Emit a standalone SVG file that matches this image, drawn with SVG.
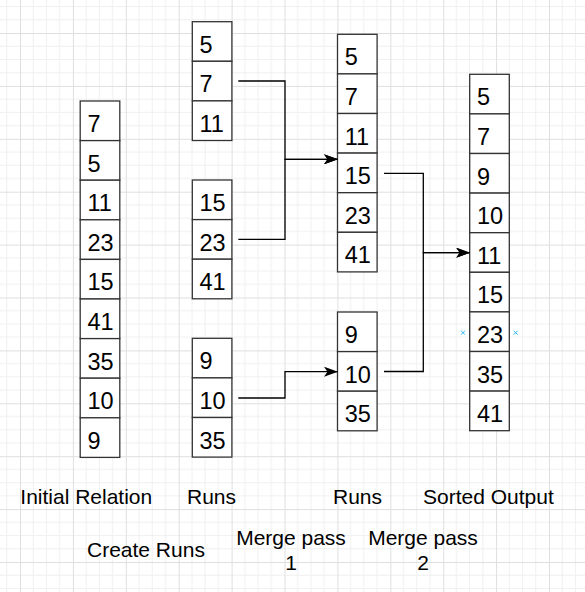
<svg xmlns="http://www.w3.org/2000/svg" width="585" height="592" viewBox="0 0 585 592">
<defs>
<pattern id="grid" x="20" y="33" width="52.9" height="52.9" patternUnits="userSpaceOnUse">
<path d="M13.225,0V52.9M26.45,0V52.9M39.675,0V52.9M0,13.225H52.9M0,26.45H52.9M0,39.675H52.9" fill="none" stroke="#f0f0f0" stroke-width="1"/>
<path d="M0.5,0V52.9M0,0.5H52.9" fill="none" stroke="#dfdfdf" stroke-width="1"/>
</pattern>
<marker id="arr" viewBox="0 0 14 10" refX="13.5" refY="5" markerWidth="14" markerHeight="10" markerUnits="userSpaceOnUse" orient="auto">
<path d="M0,0 L14,5 L0,10 L3.5,5 Z" fill="#000"/>
</marker>
<style>
.c rect{fill:#fff;stroke:#333;stroke-width:1.3}
.c text{font-family:"Liberation Sans",Arial,sans-serif;font-size:23.5px;fill:#000}
.lbl{font-family:"Liberation Sans",Arial,sans-serif;font-size:21px;fill:#000}
.e{fill:none;stroke:#000;stroke-width:1.3}
.ea{fill:none;stroke:#000;stroke-width:1.3;marker-end:url(#arr)}
</style>
</defs>
<rect width="585" height="592" fill="#fff"/>
<rect width="585" height="592" fill="url(#grid)"/>

<g id="initial" class="c">
<rect x="80.2" y="101" width="39.6" height="39.6"/><text x="87.5" y="132">7</text>
<rect x="80.2" y="140.6" width="39.6" height="39.6"/><text x="87.5" y="171.6">5</text>
<rect x="80.2" y="180.2" width="39.6" height="39.6"/><text x="87.5" y="211.2">11</text>
<rect x="80.2" y="219.8" width="39.6" height="39.6"/><text x="87.5" y="250.8">23</text>
<rect x="80.2" y="259.4" width="39.6" height="39.6"/><text x="87.5" y="290.4">15</text>
<rect x="80.2" y="299" width="39.6" height="39.6"/><text x="87.5" y="330">41</text>
<rect x="80.2" y="338.6" width="39.6" height="39.6"/><text x="87.5" y="369.6">35</text>
<rect x="80.2" y="378.2" width="39.6" height="39.6"/><text x="87.5" y="409.2">10</text>
<rect x="80.2" y="417.8" width="39.6" height="39.6"/><text x="87.5" y="448.8">9</text>
</g>

<g id="run1" class="c">
<rect x="192.3" y="21.7" width="39.6" height="39.6"/><text x="199.5" y="52.7">5</text>
<rect x="192.3" y="61.3" width="39.6" height="39.6"/><text x="199.5" y="92.3">7</text>
<rect x="192.3" y="100.9" width="39.6" height="39.6"/><text x="199.5" y="131.9">11</text>
</g>
<g id="run2" class="c">
<rect x="192.3" y="180" width="39.6" height="39.6"/><text x="199.5" y="211">15</text>
<rect x="192.3" y="219.6" width="39.6" height="39.6"/><text x="199.5" y="250.6">23</text>
<rect x="192.3" y="259.2" width="39.6" height="39.6"/><text x="199.5" y="290.2">41</text>
</g>
<g id="run3" class="c">
<rect x="192.3" y="338.3" width="39.6" height="39.6"/><text x="199.5" y="369.3">9</text>
<rect x="192.3" y="377.9" width="39.6" height="39.6"/><text x="199.5" y="408.9">10</text>
<rect x="192.3" y="417.5" width="39.6" height="39.6"/><text x="199.5" y="448.5">35</text>
</g>

<g id="merged1" class="c">
<rect x="337.5" y="34.3" width="39.6" height="39.6"/><text x="344.7" y="65.3">5</text>
<rect x="337.5" y="73.9" width="39.6" height="39.6"/><text x="344.7" y="104.9">7</text>
<rect x="337.5" y="113.5" width="39.6" height="39.6"/><text x="344.7" y="144.5">11</text>
<rect x="337.5" y="153.1" width="39.6" height="39.6"/><text x="344.7" y="184.1">15</text>
<rect x="337.5" y="192.7" width="39.6" height="39.6"/><text x="344.7" y="223.7">23</text>
<rect x="337.5" y="232.3" width="39.6" height="39.6"/><text x="344.7" y="263.3">41</text>
</g>
<g id="merged2" class="c">
<rect x="337.5" y="312" width="39.6" height="39.6"/><text x="344.7" y="343">9</text>
<rect x="337.5" y="351.6" width="39.6" height="39.6"/><text x="344.7" y="382.6">10</text>
<rect x="337.5" y="391.2" width="39.6" height="39.6"/><text x="344.7" y="422.2">35</text>
</g>

<g id="sorted" class="c">
<rect x="469.7" y="74.3" width="39.6" height="39.6"/><text x="476.9" y="105.3">5</text>
<rect x="469.7" y="113.9" width="39.6" height="39.6"/><text x="476.9" y="144.9">7</text>
<rect x="469.7" y="153.5" width="39.6" height="39.6"/><text x="476.9" y="184.5">9</text>
<rect x="469.7" y="193.1" width="39.6" height="39.6"/><text x="476.9" y="224.1">10</text>
<rect x="469.7" y="232.7" width="39.6" height="39.6"/><text x="476.9" y="263.7">11</text>
<rect x="469.7" y="272.3" width="39.6" height="39.6"/><text x="476.9" y="303.3">15</text>
<rect x="469.7" y="311.9" width="39.6" height="39.6"/><text x="476.9" y="342.9">23</text>
<rect x="469.7" y="351.5" width="39.6" height="39.6"/><text x="476.9" y="382.5">35</text>
<rect x="469.7" y="391.1" width="39.6" height="39.6"/><text x="476.9" y="422.1">41</text>
</g>

<g id="connectors">
<path class="ea" d="M238.3,81 H285 V159.3 H337.5"/>
<path class="ea" d="M238.3,239.4 H285 V159.3 H337.5"/>
<path class="ea" d="M238.3,398 H285 V371.7 H337.5"/>
<path class="ea" d="M384,173.4 H423.3 V252.7 H469.7"/>
<path class="ea" d="M384,371.5 H423.3 V252.7 H469.7"/>
</g>

<g id="markers" fill="none" stroke="#29b6f2" stroke-width="1">
<path d="M461,330.7 l4,4 m0,-4 l-4,4"/>
<path d="M513.7,330.7 l4,4 m0,-4 l-4,4"/>
</g>

<g id="labels" class="lbl">
<text x="20.3" y="504">Initial Relation</text>
<text x="187" y="504">Runs</text>
<text x="333" y="504">Runs</text>
<text x="423" y="504">Sorted Output</text>
<text x="87" y="557">Create Runs</text>
<text x="291" y="545" text-anchor="middle">Merge pass</text>
<text x="291" y="570" text-anchor="middle">1</text>
<text x="423" y="545" text-anchor="middle">Merge pass</text>
<text x="423" y="570" text-anchor="middle">2</text>
</g>
</svg>
